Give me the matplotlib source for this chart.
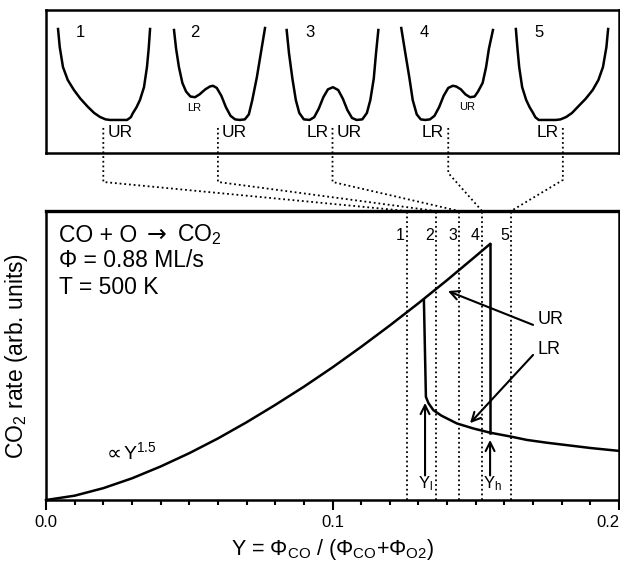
import matplotlib
matplotlib.use("Agg")
import matplotlib.pyplot as plt
from matplotlib.lines import Line2D

plt.rcParams['font.family'] = ['Liberation Sans', 'DejaVu Sans']
plt.rcParams['mathtext.fontset'] = 'custom'
plt.rcParams['mathtext.rm'] = 'Liberation Sans'
plt.rcParams['mathtext.it'] = 'Liberation Sans:italic'
plt.rcParams['mathtext.default'] = 'regular'

# rate curve
upper_Y = [0, 0.01, 0.02, 0.03, 0.04, 0.05, 0.06, 0.07, 0.08, 0.09, 0.10,
           0.11, 0.12, 0.13, 0.14, 0.15, 0.155]
upper_rate = [0, 0.015, 0.041, 0.075, 0.116, 0.162, 0.213, 0.269, 0.329, 0.392,
              0.459, 0.530, 0.604, 0.681, 0.761, 0.844, 0.886]
lower_Y = [0.1319, 0.1326, 0.1335, 0.1352, 0.1380, 0.1410, 0.1434, 0.1490,
           0.1550, 0.1620, 0.1678, 0.1750, 0.1817, 0.1900, 0.2000]
lower_rate = [0.692, 0.357, 0.335, 0.311, 0.292, 0.277, 0.265, 0.248,
              0.233, 0.220, 0.208, 0.198, 0.190, 0.180, 0.170]
jump_Y = [0.155, 0.155]
jump_rate = [0.233, 0.886]
Y_low, Y_high = 0.1323, 0.155

stage_Y = [0.1260, 0.1361, 0.1442, 0.1522, 0.1623]
stage_names = ['1', '2', '3', '4', '5']

# potential wells for the 5 stages (local coords, one panel each)
well_x = [
    [0.105, 0.12, 0.148, 0.19, 0.244, 0.30, 0.366, 0.42, 0.471, 0.52, 0.558, 0.64,
     0.707, 0.74, 0.759, 0.79, 0.82, 0.855, 0.881, 0.896, 0.908],
    [0.117, 0.135, 0.16, 0.19, 0.222, 0.26, 0.30, 0.34, 0.39, 0.43, 0.457, 0.49,
     0.53, 0.57, 0.61, 0.65, 0.69, 0.735, 0.77, 0.80, 0.84, 0.875, 0.911],
    [0.10, 0.12, 0.15, 0.18, 0.21, 0.25, 0.30, 0.34, 0.38, 0.42, 0.46, 0.504,
     0.55, 0.59, 0.63, 0.67, 0.71, 0.76, 0.80, 0.83, 0.86, 0.88, 0.90],
    [0.10, 0.135, 0.17, 0.20, 0.235, 0.27, 0.31, 0.35, 0.39, 0.43, 0.47, 0.51,
     0.55, 0.58, 0.62, 0.66, 0.70, 0.74, 0.77, 0.81, 0.84, 0.865, 0.90],
    [0.10, 0.114, 0.129, 0.155, 0.19, 0.22, 0.25, 0.27, 0.30, 0.37, 0.45, 0.49,
     0.54, 0.59, 0.64, 0.71, 0.77, 0.82, 0.86, 0.89, 0.905],
]
well_y = [
    [0.867, 0.74, 0.601, 0.51, 0.44, 0.38, 0.322, 0.28, 0.252, 0.235, 0.231, 0.231,
     0.231, 0.25, 0.28, 0.32, 0.371, 0.46, 0.601, 0.73, 0.867],
    [0.86, 0.73, 0.60, 0.49, 0.43, 0.395, 0.39, 0.41, 0.445, 0.465, 0.47, 0.455,
     0.40, 0.32, 0.26, 0.235, 0.231, 0.235, 0.27, 0.37, 0.53, 0.70, 0.874],
    [0.86, 0.70, 0.52, 0.37, 0.28, 0.235, 0.231, 0.25, 0.31, 0.39, 0.445, 0.46,
     0.44, 0.38, 0.30, 0.245, 0.231, 0.235, 0.28, 0.37, 0.52, 0.70, 0.86],
    [0.874, 0.70, 0.53, 0.37, 0.27, 0.235, 0.231, 0.235, 0.26, 0.32, 0.40, 0.455,
     0.47, 0.465, 0.445, 0.41, 0.39, 0.395, 0.43, 0.49, 0.60, 0.73, 0.86],
    [0.867, 0.73, 0.601, 0.46, 0.371, 0.32, 0.28, 0.25, 0.231, 0.231, 0.231, 0.235,
     0.252, 0.28, 0.322, 0.38, 0.44, 0.51, 0.601, 0.74, 0.867],
]
big_left = ['', '', 'LR', 'LR', 'LR']     # label left of the dotted stub
big_right = ['UR', 'UR', 'UR', '', '']    # label right of the dotted stub
stub_x = [0.5, 0.5, 0.5, 0.51, 0.51]
stub_drop = [29, 29, 29, 20, 27]          # px below the top panel

fig = plt.figure(figsize=(6.2, 5.62), dpi=100)
top = fig.add_axes([0.0742, 0.7278, 0.9242, 0.2544])
ax = fig.add_axes([0.0742, 0.1103, 0.9242, 0.5142])

# --- top panel with the wells
top.set_xlim(0, 5)
top.set_ylim(0, 1)
top.set_xticks([])
top.set_yticks([])
for s in top.spines.values():
    s.set_linewidth(1.8)
for i in range(5):
    top.plot([i + x for x in well_x[i]], well_y[i], color='black', lw=1.8,
             solid_joinstyle='round')
    top.text(i + 0.3, 0.84, stage_names[i], fontsize=12, ha='center', va='center')
    if big_right[i]:
        top.annotate(big_right[i], (i + stub_x[i], 0.14), xytext=(3, 0),
                     textcoords='offset points', fontsize=12.5, ha='left', va='center')
    if big_left[i]:
        top.annotate(big_left[i], (i + stub_x[i], 0.14), xytext=(-3, 0),
                     textcoords='offset points', fontsize=12.5, ha='right', va='center')
top.text(1.29, 0.315, 'LR', fontsize=8, ha='center', va='center')
top.text(3.674, 0.32, 'UR', fontsize=8, ha='center', va='center')

# --- main panel
ax.set_xlim(0, 0.2)
ax.set_ylim(0, 1)
ax.plot(upper_Y, upper_rate, color='black', lw=1.8, clip_on=False)
ax.plot(lower_Y, lower_rate, color='black', lw=1.8)
ax.plot(jump_Y, jump_rate, color='black', lw=1.8)

for Ys, name in zip(stage_Y, stage_names):
    ax.axvline(Ys, color='black', lw=1.3, ls=(0, (1, 1.6)))
    ax.annotate(name, (Ys, 0.917), xytext=(-1.5, 0), textcoords='offset points',
                fontsize=11.5, ha='right', va='center')

t1 = ax.text(0.023, 0.917, 'CO + O', transform=ax.transAxes,
             fontsize=16.5, ha='left', va='center')
t2 = ax.annotate('\u2192', xy=(1, 0.5), xycoords=t1, xytext=(7, 0),
                 textcoords='offset points', family='DejaVu Sans',
                 fontsize=17, ha='left', va='center')
ax.annotate('CO$_2$', xy=(1, 0.5), xycoords=t2, xytext=(7, 0),
            textcoords='offset points', fontsize=16.5, ha='left', va='center')
ax.text(0.023, 0.830, '\u03a6 = 0.88 ML/s', transform=ax.transAxes,
        fontsize=16.5, ha='left', va='center')
ax.text(0.023, 0.734, 'T = 500 K', transform=ax.transAxes,
        fontsize=16.5, ha='left', va='center')
t4 = ax.text(0.0213, 0.162, '\u221d', family='DejaVu Sans', fontsize=15,
             ha='left', va='center')
ax.annotate('Y$^{1.5}$', xy=(1, 0.5), xycoords=t4, xytext=(1, 1),
            textcoords='offset points', fontsize=14, ha='left', va='center')

arrow = dict(arrowstyle='->', color='black', lw=1.5, mutation_scale=16,
             shrinkA=0, shrinkB=0)
ax.annotate('', xy=(0.1403, 0.723), xytext=(0.170, 0.606), arrowprops=arrow)
ax.annotate('', xy=(0.148, 0.266), xytext=(0.170, 0.502), arrowprops=arrow)
ax.text(0.1715, 0.623, 'UR', fontsize=13, ha='left', va='center')
ax.text(0.1715, 0.522, 'LR', fontsize=13, ha='left', va='center')
ax.annotate('', xy=(Y_low, 0.336), xytext=(Y_low, 0.085), arrowprops=arrow)
ax.annotate('', xy=(Y_high, 0.208), xytext=(Y_high, 0.085), arrowprops=arrow)
ax.text(Y_low, 0.055, 'Y$_l$', fontsize=12, ha='center', va='center')
ax.text(Y_high + 0.001, 0.055, 'Y$_h$', fontsize=12, ha='center', va='center')

ax.set_yticks([])
ax.set_xticks([0, 0.1, 0.2], ['0.0', '0.1', '0.2'])
ax.set_xticks([i / 100 for i in range(21)], minor=True)
ax.tick_params(axis='x', which='major', length=7, width=1.5, labelsize=12, pad=4)
ax.tick_params(axis='x', which='minor', length=3.5, width=1.5)
ax.get_xticklabels()[-1].set_horizontalalignment('right')
for s in ax.spines.values():
    s.set_linewidth(1.8)
ax.spines['top'].set_linewidth(2.4)
ax.set_xlabel('Y = \u03a6$_{CO}$ / (\u03a6$_{CO}$+\u03a6$_{O2}$)', fontsize=15.5, labelpad=5)
ax.set_ylabel('CO$_2$ rate (arb. units)', fontsize=16.5)
ax.yaxis.set_label_coords(-0.028, 0.5)

# --- dotted connectors from the wells down to the stage lines
inv = fig.transFigure.inverted()
for i in range(5):
    p0 = top.transData.transform((i + stub_x[i], 0.175))
    p1 = top.transData.transform((i + stub_x[i], 0.0))
    p1 = (p1[0], p1[1] - stub_drop[i])
    p2 = ax.get_xaxis_transform().transform((stage_Y[i], 1.0))
    pts = inv.transform([p0, p1, p2])
    fig.add_artist(Line2D(pts[:, 0], pts[:, 1], transform=fig.transFigure,
                          color='black', lw=1.3, ls=(0, (1, 1.6))))

fig.savefig('out.png', dpi=100)
